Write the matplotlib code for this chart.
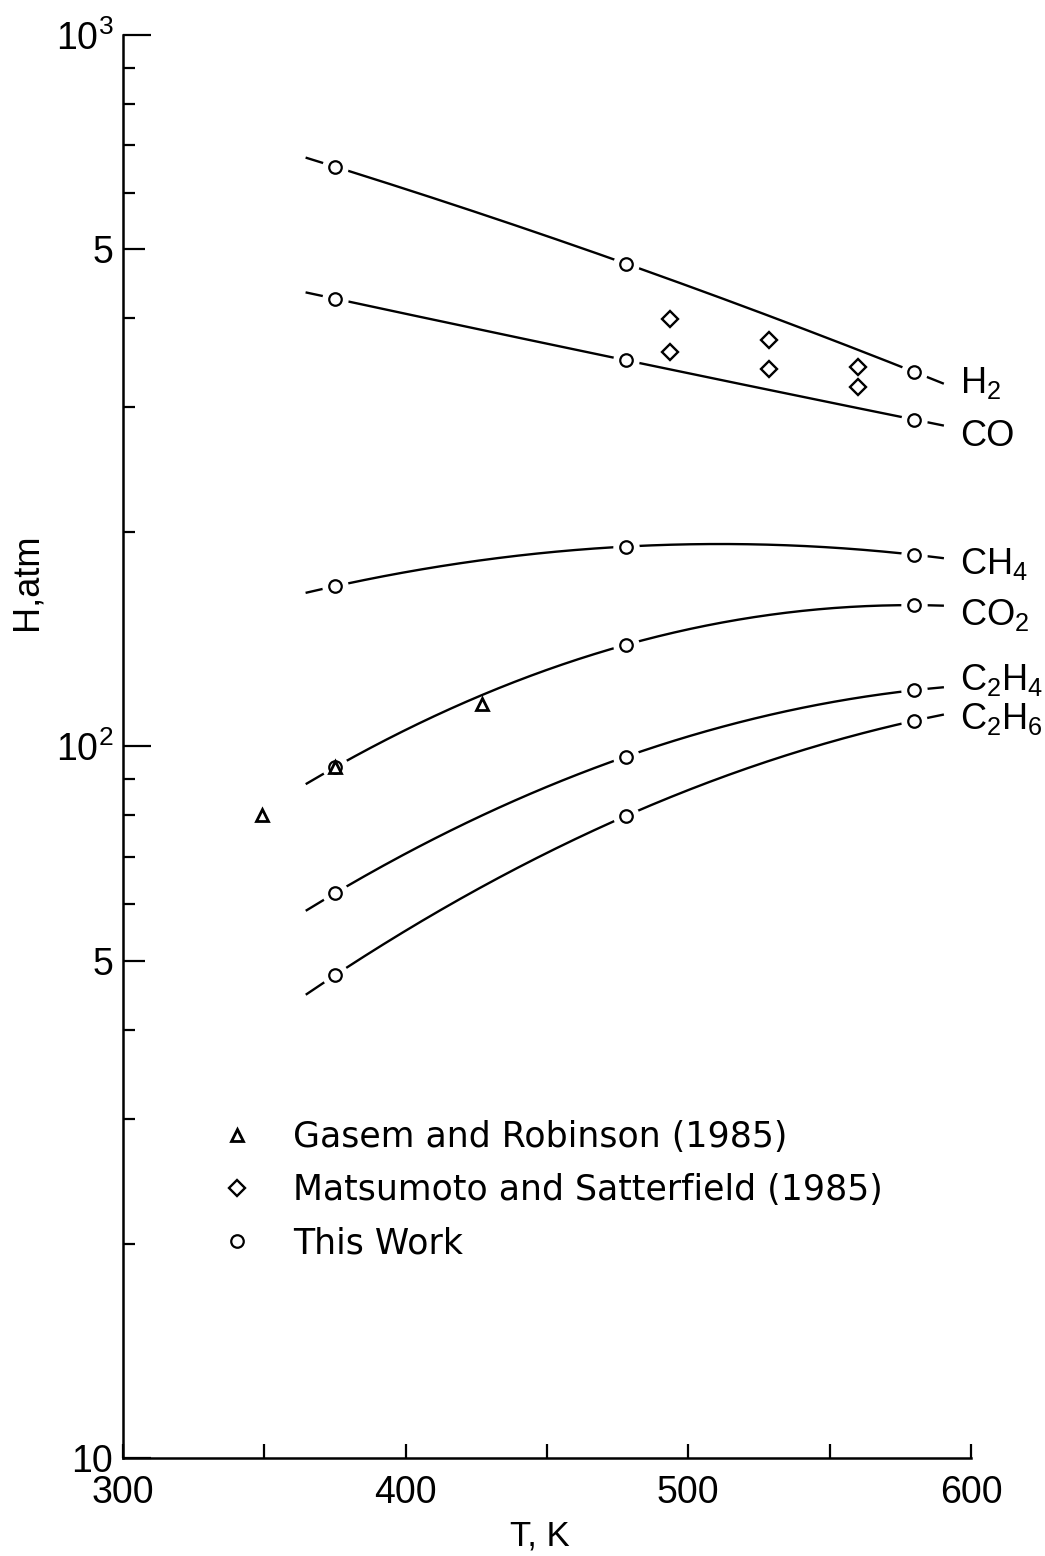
import numpy as np
import matplotlib.pyplot as plt
from matplotlib.ticker import FixedLocator, FixedFormatter, NullFormatter

plt.rcParams['font.family'] = ['Liberation Sans', 'DejaVu Sans']

# this work: temperature (K) and Henry's constant (atm) for each gas
T_work = [375, 478, 580]
H_h2 = [653, 477, 336]
H_co = [426, 349, 288]
H_ch4 = [168, 191, 186]
H_co2 = [93.5, 139, 158]
H_c2h4 = [62.2, 96.8, 120]
H_c2h6 = [47.7, 79.9, 108.7]
gas_values = [H_h2, H_co, H_ch4, H_co2, H_c2h4, H_c2h6]
gas_labels = [r'$\mathregular{H_2}$', 'CO', r'$\mathregular{CH_4}$',
              r'$\mathregular{CO_2}$', r'$\mathregular{C_2H_4}$', r'$\mathregular{C_2H_6}$']

# Gasem and Robinson (1985)
T_gasem = [349, 375, 427]
H_gasem = [80.1, 93.5, 114.7]

# Matsumoto and Satterfield (1985)
T_mats = [493.5, 493.5, 528.6, 528.6, 560, 560]
H_mats = [399, 358, 373, 339, 342, 320]

legend_labels = ['Gasem and Robinson (1985)', 'Matsumoto and Satterfield (1985)', 'This Work']

x_ticks = [300, 400, 500, 600]
x_minor = [350, 450, 550]
y_ticks = [10, 50, 100, 500, 1000]
y_tick_labels = ['10', '5', r'$\mathregular{10^2}$', '5', r'$\mathregular{10^3}$']
y_minor = [20, 30, 40, 60, 70, 80, 90, 200, 300, 400, 600, 700, 800, 900]

T_lo, T_hi = 365, 590  # span of the smoothed curves
label_dy = [0, -8, -4, -7, 5, -3]  # nudge of the gas names, points

fig = plt.figure(figsize=(10.45, 15.56), dpi=100)
ax = fig.add_axes([0.1177, 0.0630, 0.8115, 0.9145])
ax.set_yscale('log')

tt = np.linspace(T_lo, T_hi, 200)
h_work = None
for H, lab, dy in zip(gas_values, gas_labels, label_dy):
    coef = np.polyfit(T_work, np.log10(H), 2)  # smooth curve through the 3 points
    hh = 10 ** np.polyval(coef, tt)
    ax.plot(tt, hh, color='k', lw=1.7, zorder=2)
    ax.plot(T_work, H, 'o', ms=19, color='white', mec='none', zorder=3)  # gap round markers
    h_work, = ax.plot(T_work, H, 'o', ms=9, mfc='white', mec='k', mew=1.6, zorder=4)
    ax.annotate(lab, (596, hh[-1]), xytext=(0, dy), textcoords='offset points',
                fontsize=26, va='center', ha='left', annotation_clip=False)

h_mats, = ax.plot(T_mats, H_mats, 'D', ms=8.5, mfc='white', mec='k', mew=1.7, ls='none', zorder=5)
h_gasem, = ax.plot(T_gasem, H_gasem, '^', ms=9, mfc='white', mec='k', mew=2, ls='none', zorder=6)

ax.set_xlim(300, 600)
ax.set_ylim(10, 1000)

ax.xaxis.set_major_locator(FixedLocator(x_ticks))
ax.xaxis.set_minor_locator(FixedLocator(x_minor))
ax.yaxis.set_major_locator(FixedLocator(y_ticks))
ax.yaxis.set_major_formatter(FixedFormatter(y_tick_labels))
ax.yaxis.set_minor_locator(FixedLocator(y_minor))
ax.yaxis.set_minor_formatter(NullFormatter())

ax.tick_params(axis='x', which='both', direction='in', length=10, width=1.6, labelsize=27, pad=12)
ax.tick_params(axis='y', which='major', direction='in', length=16, width=1.6, labelsize=27, pad=7)
ax.tick_params(axis='y', which='minor', direction='in', length=8.5, width=1.6)
for i, t in enumerate(ax.yaxis.get_major_ticks()):
    if i % 2 == 0:  # decades get the longest ticks
        t.tick1line.set_markersize(20)

for s in ['top', 'right']:
    ax.spines[s].set_visible(False)
for s in ['left', 'bottom']:
    ax.spines[s].set_linewidth(1.8)

ax.set_xlabel('T, K', fontsize=25)
ax.xaxis.set_label_coords(0.4917, -0.043)
ax.set_ylabel('H,atm', fontsize=26)
ax.yaxis.set_label_coords(-0.092, 0.616)

ax.legend([h_gasem, h_mats, h_work], legend_labels, loc='upper left',
          bbox_to_anchor=(0.1144, 0.2375), frameon=False,
          prop={'family': 'DejaVu Sans', 'size': 25}, handlelength=1.0,
          handletextpad=1.1, labelspacing=0.55, borderpad=0, borderaxespad=0)

plt.savefig('out.png', dpi=100)
